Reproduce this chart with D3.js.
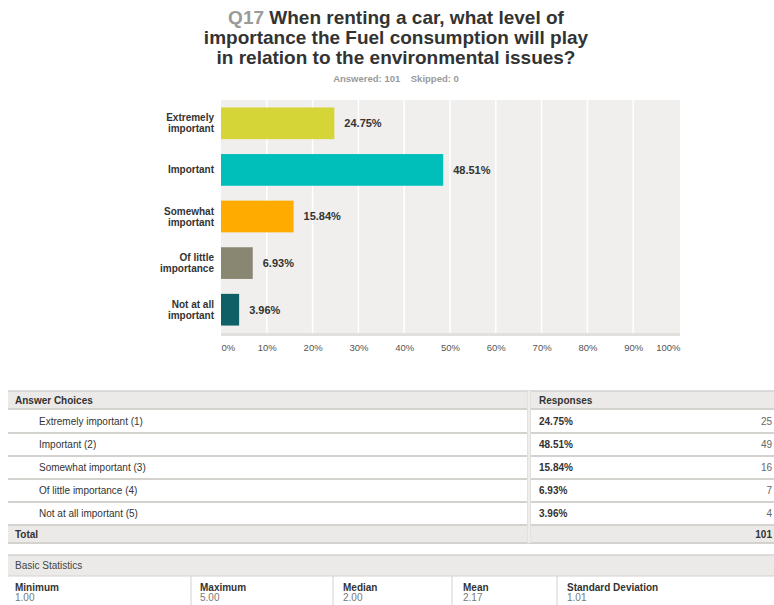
<!DOCTYPE html>
<html>
<head>
<meta charset="utf-8">
<script src="https://cdn.jsdelivr.net/npm/d3@7/dist/d3.min.js"></script>
<style>
  html, body { margin: 0; padding: 0; background: #fff; }
  svg { display: block; font-family: "Liberation Sans", Arial, Helvetica, sans-serif; }
</style>
</head>
<body>
<svg id="chart" width="774" height="605"></svg>
<script>
// Survey question Q17 — responses
const questionId = "Q17";
const titleLines = [
  "When renting a car, what level of",
  "importance the Fuel consumption will play",
  "in relation to the environmental issues?"
];
const answered = 101;
const skipped = 0;

const categories = [
  ["Extremely", "important"],
  ["Important"],
  ["Somewhat", "important"],
  ["Of little", "importance"],
  ["Not at all", "important"]
];
const choiceLabels = [
  "Extremely important (1)",
  "Important (2)",
  "Somewhat important (3)",
  "Of little importance (4)",
  "Not at all important (5)"
];
const percents = [24.75, 48.51, 15.84, 6.93, 3.96];
const counts = [25, 49, 16, 7, 4];
const barColors = ["#d5d538", "#00bfba", "#ffab00", "#898772", "#0e5f66"];
const xTicks = [0, 10, 20, 30, 40, 50, 60, 70, 80, 90, 100];

const statNames = ["Minimum", "Maximum", "Median", "Mean", "Standard Deviation"];
const statValues = ["1.00", "5.00", "2.00", "2.17", "1.01"];

const svg = d3.select("#chart");

// ---- Title ----
const title = svg.append("g").attr("font-weight", "bold").attr("font-size", 19)
  .attr("text-anchor", "middle");
titleLines.forEach((line, i) => {
  const t = title.append("text").attr("x", 396).attr("y", 24 + i * 20).attr("fill", "#333");
  if (i === 0) {
    t.append("tspan").attr("fill", "#9a9a9a").text(questionId + " ");
  }
  t.append("tspan").text(line);
});
svg.append("text").attr("x", 396).attr("y", 81.5).attr("text-anchor", "middle")
  .attr("font-size", 9.5).attr("font-weight", "bold").attr("fill", "#9a9a9a")
  .attr("xml:space", "preserve")
  .text(`Answered: ${answered}    Skipped: ${skipped}`);

// ---- Bar chart ----
const plot = { left: 221, right: 680, top: 100, bottom: 333 };
const x = d3.scaleLinear().domain([0, 100]).range([plot.left, plot.right - 1]);
const y = d3.scaleBand().domain(d3.range(categories.length))
  .range([plot.top, plot.bottom]).paddingInner(0.32).paddingOuter(0.16);

svg.append("rect").attr("x", plot.left).attr("y", plot.top)
  .attr("width", plot.right - plot.left).attr("height", plot.bottom - plot.top)
  .attr("fill", "#f0efed");
svg.append("rect").attr("x", plot.left).attr("y", plot.bottom)
  .attr("width", plot.right - plot.left).attr("height", 3).attr("fill", "#e2e0dc");

// vertical grid lines
svg.append("g").selectAll("line").data(xTicks.slice(1, -1)).join("line")
  .attr("x1", d => x(d)).attr("x2", d => x(d))
  .attr("y1", plot.top).attr("y2", plot.bottom)
  .attr("stroke", "#fff").attr("stroke-width", 1.5);

// bars
svg.append("g").selectAll("rect").data(percents).join("rect")
  .attr("x", x(0)).attr("y", (d, i) => y(i))
  .attr("width", d => x(d) - x(0)).attr("height", y.bandwidth())
  .attr("fill", (d, i) => barColors[i]);

// value labels
svg.append("g").selectAll("text").data(percents).join("text")
  .attr("x", d => x(d) + 10).attr("y", (d, i) => y(i) + y.bandwidth() / 2)
  .attr("dy", "0.35em").attr("font-size", 11).attr("font-weight", "bold")
  .attr("fill", "#333").text(d => d.toFixed(2) + "%");

// category labels
const catG = svg.append("g").attr("font-size", 10).attr("font-weight", "bold")
  .attr("fill", "#333").attr("text-anchor", "end");
categories.forEach((lines, i) => {
  const cy = y(i) + y.bandwidth() / 2;
  const t = catG.append("text").attr("x", 214).attr("y", cy - (lines.length - 1) * 5.5);
  lines.forEach((ln, j) => {
    t.append("tspan").attr("x", 214).attr("dy", j === 0 ? "0.35em" : 11).text(ln);
  });
});

// x axis
const xAxis = d3.axisBottom(x).tickValues(xTicks).tickSize(0).tickFormat(d => d + "%");
const axG = svg.append("g").attr("transform", `translate(0,${plot.bottom + 8})`).call(xAxis);
axG.select(".domain").remove();
axG.selectAll("text").attr("font-size", 9.5).attr("fill", "#555")
  .attr("font-family", "\"Liberation Sans\", Arial, sans-serif")
  .attr("text-anchor", (d, i) => i === 0 ? "start" : (i === xTicks.length - 1 ? "end" : "middle"))
  .attr("dx", (d, i) => i === xTicks.length - 1 ? 1 : 0);

// ---- Answer table ----
const tbl = { left: 8, right: 790, top: 391, headH: 18, rowH: 23, divX: 529 };
const rowsTop = tbl.top + tbl.headH + 1;
svg.append("rect").attr("x", tbl.left).attr("y", tbl.top)
  .attr("width", tbl.right - tbl.left).attr("height", tbl.headH).attr("fill", "#ebeae8");
svg.append("line").attr("x1", tbl.left).attr("x2", tbl.right)
  .attr("y1", tbl.top).attr("y2", tbl.top).attr("stroke", "#d4d2cf").attr("stroke-width", 1.5);
const totalTop = rowsTop + choiceLabels.length * tbl.rowH;
svg.append("rect").attr("x", tbl.left).attr("y", totalTop)
  .attr("width", tbl.right - tbl.left).attr("height", 18).attr("fill", "#ebeae8");
// row separators
const seps = d3.range(choiceLabels.length + 2).map(i =>
  i === 0 ? rowsTop - 1 : (i <= choiceLabels.length ? rowsTop + i * tbl.rowH : totalTop + 18));
svg.append("g").selectAll("line").data(seps).join("line")
  .attr("x1", tbl.left).attr("x2", tbl.right)
  .attr("y1", d => d).attr("y2", d => d)
  .attr("stroke", "#d4d2cf").attr("stroke-width", 2);
// column divider
svg.append("rect").attr("x", tbl.divX - 2).attr("y", tbl.top)
  .attr("width", 4).attr("height", totalTop + 18 - tbl.top).attr("fill", "#e3e1de");
svg.append("line").attr("x1", tbl.divX).attr("x2", tbl.divX)
  .attr("y1", tbl.top).attr("y2", totalTop + 18).attr("stroke", "#fff").attr("stroke-width", 0.8);

const tt = svg.append("g").attr("font-size", 10).attr("fill", "#333");
tt.append("text").attr("x", 15).attr("y", tbl.top + tbl.headH / 2).attr("dy", "0.35em")
  .attr("font-weight", "bold").text("Answer Choices");
tt.append("text").attr("x", 539).attr("y", tbl.top + tbl.headH / 2).attr("dy", "0.35em")
  .attr("font-weight", "bold").text("Responses");
choiceLabels.forEach((lab, i) => {
  const cy = rowsTop + i * tbl.rowH + tbl.rowH / 2;
  tt.append("text").attr("x", 39).attr("y", cy).attr("dy", "0.35em").text(lab);
  tt.append("text").attr("x", 539).attr("y", cy).attr("dy", "0.35em")
    .attr("font-weight", "bold").text(percents[i].toFixed(2) + "%");
  tt.append("text").attr("x", 772).attr("y", cy).attr("dy", "0.35em")
    .attr("text-anchor", "end").attr("fill", "#666").text(counts[i]);
});
tt.append("text").attr("x", 15).attr("y", totalTop + 9).attr("dy", "0.35em")
  .attr("font-weight", "bold").text("Total");
tt.append("text").attr("x", 772).attr("y", totalTop + 9).attr("dy", "0.35em")
  .attr("text-anchor", "end").attr("font-weight", "bold").text(d3.sum(counts));

// ---- Basic statistics ----
const st = { left: 8, right: 790, top: 555, headH: 21 };
svg.append("rect").attr("x", st.left).attr("y", st.top)
  .attr("width", st.right - st.left).attr("height", st.headH).attr("fill", "#ebeae8");
svg.append("line").attr("x1", st.left).attr("x2", st.right)
  .attr("y1", st.top).attr("y2", st.top).attr("stroke", "#d4d2cf").attr("stroke-width", 1.5);
svg.append("line").attr("x1", st.left).attr("x2", st.right)
  .attr("y1", st.top + st.headH).attr("y2", st.top + st.headH)
  .attr("stroke", "#d4d2cf").attr("stroke-width", 1);
svg.append("text").attr("x", 15).attr("y", st.top + st.headH / 2).attr("dy", "0.35em")
  .attr("font-size", 10).attr("fill", "#444").text("Basic Statistics");
const statX = [15, 200, 343, 463, 567];
const statDiv = [191, 333, 452, 557];
svg.append("g").selectAll("line").data(statDiv).join("line")
  .attr("x1", d => d).attr("x2", d => d).attr("y1", st.top + st.headH).attr("y2", 605)
  .attr("stroke", "#d4d2cf").attr("stroke-width", 1);
statNames.forEach((n, i) => {
  svg.append("text").attr("x", statX[i]).attr("y", 590.5).attr("font-size", 10)
    .attr("font-weight", "bold").attr("fill", "#333").text(n);
  svg.append("text").attr("x", statX[i]).attr("y", 601).attr("font-size", 10)
    .attr("fill", "#777").text(statValues[i]);
});
</script>
</body>
</html>
